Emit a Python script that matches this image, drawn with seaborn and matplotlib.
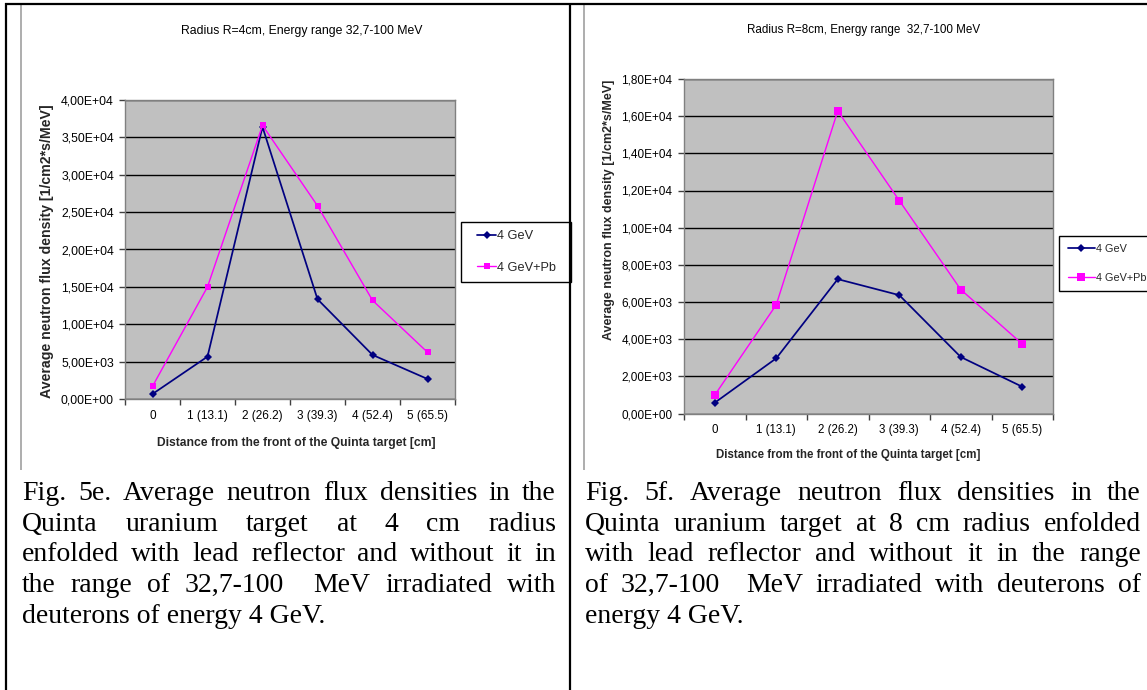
import matplotlib
matplotlib.use("Agg")
import matplotlib.pyplot as plt
import seaborn as sns
import numpy as np
from matplotlib.legend_handler import HandlerLine2D
from matplotlib.lines import Line2D

# ---------------- data ----------------
positions = ["0", "1 (13.1)", "2 (26.2)", "3 (39.3)", "4 (52.4)", "5 (65.5)"]
series_labels = ["4 GeV", "4 GeV+Pb"]

flux_r4 = [670, 5670, 36400, 13350, 5900, 2680]
flux_r4_pb = [1700, 15000, 36600, 25850, 13200, 6250]
flux_r8 = [580, 2970, 7230, 6370, 3040, 1440]
flux_r8_pb = [990, 5850, 16280, 11460, 6670, 3740]

titles = ["Radius R=4cm, Energy range 32,7-100 MeV",
          "Radius R=8cm, Energy range  32,7-100 MeV"]
x_title = "Distance from the front of the Quinta target [cm]"
y_title = "Average neutron flux density [1/cm2*s/MeV]"

caption_left = [
    "Fig. 5e. Average neutron flux densities in the",
    "Quinta uranium target at 4 cm radius",
    "enfolded with lead reflector and without it in",
    "the range of 32,7-100  MeV irradiated with",
    "deuterons of energy 4 GeV.",
]
caption_right = [
    "Fig. 5f. Average neutron flux densities in the",
    "Quinta uranium target at 8 cm radius enfolded",
    "with lead reflector and without it in the range",
    "of 32,7-100  MeV irradiated with deuterons of",
    "energy 4 GeV.",
]

# ---------------- style ----------------
W, H, DPI = 1147, 690, 100
NAVY = "#000080"
MAGENTA = "#FF00FF"
PLOT_BG = "#C0C0C0"
FRAME_GRAY = "#808080"
TICK_COLOR = "#404040"

sns.set_theme(style="white")
plt.rcParams["font.family"] = ["Liberation Sans", "DejaVu Sans"]

fig = plt.figure(figsize=(W / DPI, H / DPI), dpi=DPI, facecolor="white")


def fx(px):
    return px / W


def fy(py):
    return 1 - py / H


class LeadLineHandler(HandlerLine2D):
    """Legend key whose line starts a little right of the key box."""

    def __init__(self, lead=0.0, **kw):
        super().__init__(**kw)
        self.lead = lead

    def create_artists(self, legend, orig_handle, xdescent, ydescent,
                       width, height, fontsize, trans):
        shift = self.lead * fontsize
        return super().create_artists(legend, orig_handle,
                                      xdescent - shift, ydescent,
                                      width - shift, height, fontsize, trans)


def draw_panel(box, flux_a, flux_b, ymax, ystep, title, st):
    x0, y0, x1, y1 = box
    ax = fig.add_axes([fx(x0), fy(y1), (x1 - x0) / W, (y1 - y0) / H])
    ax.set_facecolor(PLOT_BG)

    sns.lineplot(x=positions, y=flux_a, ax=ax, color=NAVY, marker="D",
                 markersize=st["ms_d"], markeredgewidth=0, linewidth=st["lw_a"],
                 sort=False, errorbar=None, label=series_labels[0], legend=False)
    sns.lineplot(x=positions, y=flux_b, ax=ax, color=MAGENTA, marker="s",
                 markersize=st["ms_s"], markeredgewidth=0, linewidth=st["lw_b"],
                 sort=False, errorbar=None, label=series_labels[1], legend=False)

    ax.set_xlim(-0.5, len(positions) - 0.5)
    ax.set_ylim(0, ymax)
    yt = np.arange(0, ymax + ystep / 2, ystep)
    ax.set_yticks(yt)
    ax.set_yticklabels([f"{v:.2E}".replace(".", ",") for v in yt],
                       fontsize=st["fs_ytick"])
    ax.set_xticks(range(len(positions)))
    ax.set_xticklabels(positions, fontsize=st["fs_xtick"])
    ax.set_xticks(np.arange(-0.5, len(positions)), minor=True)
    ax.tick_params(axis="x", which="major", bottom=True, length=0,
                   pad=st["xpad"], labelcolor="black")
    ax.tick_params(axis="x", which="minor", bottom=True, length=4, width=1,
                   color=TICK_COLOR, direction="out")
    ax.tick_params(axis="y", which="major", left=True, length=4, width=1,
                   color=TICK_COLOR, direction="out", pad=st["ypad"],
                   labelcolor="black")

    ax.yaxis.grid(True, color="black", linewidth=1)
    ax.xaxis.grid(False)
    ax.set_axisbelow(True)
    for s in ax.spines.values():
        s.set_visible(True)
        s.set_color(FRAME_GRAY)
        s.set_linewidth(1)

    ax.set_xlabel(x_title, fontsize=st["fs_xlabel"], fontweight="bold")
    cx, cy = st["xlabel_at"]
    ax.xaxis.set_label_coords((cx - x0) / (x1 - x0), (y1 - cy) / (y1 - y0))
    ax.xaxis.label.set_va("center")

    ax.set_ylabel(y_title, fontsize=st["fs_ylabel"], fontweight="bold")
    cx, cy = st["ylabel_at"]
    ax.yaxis.set_label_coords((cx - x0) / (x1 - x0), (y1 - cy) / (y1 - y0))
    ax.yaxis.label.set_va("center")

    tx, ty = st["title_at"]
    fig.text(fx(tx), fy(ty), title, ha="center", va="center",
             fontsize=st["fs_title"], color="black")

    handles, labels = ax.get_legend_handles_labels()
    lx0, ly0, lx1 = st["legend_box"]
    leg = ax.legend(handles, labels, loc="upper left",
                    bbox_to_anchor=(fx(lx0), fy(ly0), (lx1 - lx0) / W, 0),
                    bbox_transform=fig.transFigure, mode="expand",
                    borderaxespad=0, borderpad=st["leg_pad"],
                    labelspacing=st["leg_spacing"],
                    handlelength=st["leg_hlen"], handletextpad=0.06,
                    fontsize=st["fs_legend"], frameon=True, fancybox=False,
                    edgecolor="black", facecolor="white", framealpha=1,
                    handler_map={Line2D: LeadLineHandler(lead=st["leg_lead"])})
    leg.get_frame().set_linewidth(1)
    return ax


left_style = dict(
    ms_d=4.3, ms_s=5.0, lw_a=1.25, lw_b=1.0,
    fs_ytick=8.8, fs_xtick=8.5, fs_xlabel=8.7, fs_ylabel=10.2, fs_title=8.8,
    fs_legend=9.2, xpad=8, ypad=4,
    xlabel_at=(296, 443), ylabel_at=(47, 251.5), title_at=(302, 31),
    legend_box=(460.7, 221.7, 571), leg_pad=0.65, leg_spacing=1.55,
    leg_hlen=2.1, leg_lead=0.65,
)
right_style = dict(
    ms_d=4.3, ms_s=5.2, lw_a=1.25, lw_b=1.0,
    fs_ytick=8.5, fs_xtick=8.3, fs_xlabel=8.3, fs_ylabel=9.0, fs_title=8.35,
    fs_legend=7.8, xpad=7.5, ypad=4.5,
    xlabel_at=(848, 455), ylabel_at=(609, 210), title_at=(864, 30),
    legend_box=(1058.7, 236, 1160), leg_pad=0.75, leg_spacing=1.75,
    leg_hlen=2.6, leg_lead=0.1,
)

draw_panel((125, 100, 455, 399), flux_r4, flux_r4_pb, 40000, 5000,
           titles[0], left_style)
draw_panel((684, 79, 1053, 413.5), flux_r8, flux_r8_pb, 18000, 2000,
           titles[1], right_style)


# ---------------- captions (justified Times text) ----------------
CAP_FONT = ["Liberation Serif", "DejaVu Serif"]
CAP_SIZE = 20
renderer = fig.canvas.get_renderer()


def text_width(s):
    t = fig.text(0, 0, s, fontsize=CAP_SIZE, family=CAP_FONT)
    w = t.get_window_extent(renderer).width
    t.remove()
    return w


def justified_block(lines, left, right, first_baseline, line_step):
    for i, line in enumerate(lines):
        y = fy(first_baseline + i * line_step)
        if i == len(lines) - 1:
            fig.text(fx(left), y, line, fontsize=CAP_SIZE, family=CAP_FONT,
                     va="baseline", ha="left", color="black")
            continue
        words = line.split(" ")
        widths = [text_width(w) if w else 0.0 for w in words]
        gap = (right - left - sum(widths)) / (len(words) - 1)
        x = left
        for w, wd in zip(words, widths):
            if w:
                fig.text(fx(x), y, w, fontsize=CAP_SIZE, family=CAP_FONT,
                         va="baseline", ha="left", color="black")
            x += wd + gap


justified_block(caption_left, 22, 556, 500, 30.7)
justified_block(caption_right, 585, 1141, 500, 30.7)

# ---------------- table and chart frames ----------------
def fig_line(xs, ys, color, lw, z=10):
    fig.add_artist(Line2D([fx(v) for v in xs], [fy(v) for v in ys],
                          color=color, linewidth=lw, zorder=z,
                          solid_capstyle="butt"))


fig_line([21, 21], [5, 470], "#A0A0A0", 1.2)
fig_line([584, 584], [5, 470], "#A0A0A0", 1.2)
fig_line([6, 6], [3, 690], "black", 1.6)
fig_line([570, 570], [3, 690], "black", 1.6)
fig_line([5, W], [4, 4], "black", 1.6)

fig.savefig("out.png", dpi=DPI, facecolor="white")
